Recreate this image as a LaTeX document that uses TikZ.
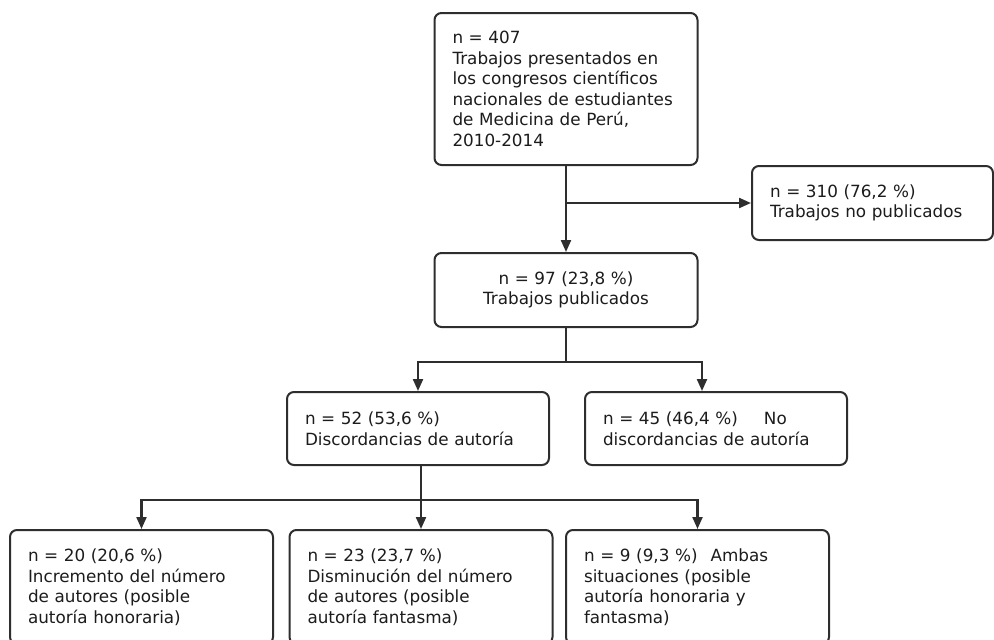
\documentclass[tikz,border=0pt]{standalone}
\usepackage{fontspec}
\setmainfont{DejaVu Sans}
\usetikzlibrary{arrows.meta,calc}
\definecolor{ln}{HTML}{2E2E2E}
\definecolor{tx}{HTML}{1C1C1C}
\begin{document}
\begin{tikzpicture}[x=1pt,y=-1pt,
  box/.style={draw=ln, line width=2pt, rounded corners=7pt, fill=white, text=tx,
    inner xsep=18pt, inner ysep=0pt, font=\fontsize{16.8}{20.5}\selectfont, align=left},
  conn/.style={draw=ln, line width=2.2pt},
  arr/.style={conn, -{Triangle[length=12pt,width=10pt]}}]
\useasboundingbox (0,0) rectangle (994,640);
\clip (0,0) rectangle (994,640);

\node[box, text width=227pt, minimum height=152pt] (top) at (566,89)
  {n = 407\\Trabajos presentados en\\los congresos científicos\\nacionales de estudiantes\\de Medicina de Perú,\\2010-2014};
\node[box, text width=205pt, minimum height=74pt] (right) at (872.5,203)
  {n = 310 (76,2 \%)\\Trabajos no publicados};
\node[box, text width=227pt, minimum height=74pt, align=center] (pub) at (566,290)
  {n = 97 (23,8 \%)\\Trabajos publicados};
\node[box, text width=226pt, minimum height=73pt] (disc) at (418,428.5)
  {n = 52 (53,6 \%)\\Discordancias de autoría};
\node[box, text width=226pt, minimum height=73pt] (nodisc) at (716,428.5)
  {n = 45 (46,4 \%)\hspace{26pt}No\\discordancias de autoría};
\node[box, text width=227pt, minimum height=114pt] (inc) at (141.5,587)
  {n = 20 (20,6 \%)\\Incremento del número\\de autores (posible\\autoría honoraria)};
\node[box, text width=227pt, minimum height=114pt] (dis) at (421,587)
  {n = 23 (23,7 \%)\\Disminución del número\\de autores (posible\\autoría fantasma)};
\node[box, text width=227pt, minimum height=114pt] (amb) at (697.5,587)
  {n = 9 (9,3 \%)\hspace{13pt}Ambas\\situaciones (posible\\autoría honoraria y\\fantasma)};

% first level
\draw[arr] (top.south) -- (pub.north);
\draw[arr] (top.south |- right.west) -- (right.west);

% second level
\coordinate (j1) at (566,362);
\coordinate (j1r) at (702,362);
\draw[conn] (pub.south) -- (j1);
\draw[arr] (j1) -| (disc.north);
\draw[arr] (j1) -- (j1r) -- (j1r |- nodisc.north);

% third level
\coordinate (j2) at (421,500);
\draw[arr] (dis.north |- disc.south) -- (dis.north);
\draw[arr] (j2) -| (inc.north);
\draw[arr] (j2) -| (amb.north);
\end{tikzpicture}
\end{document}
